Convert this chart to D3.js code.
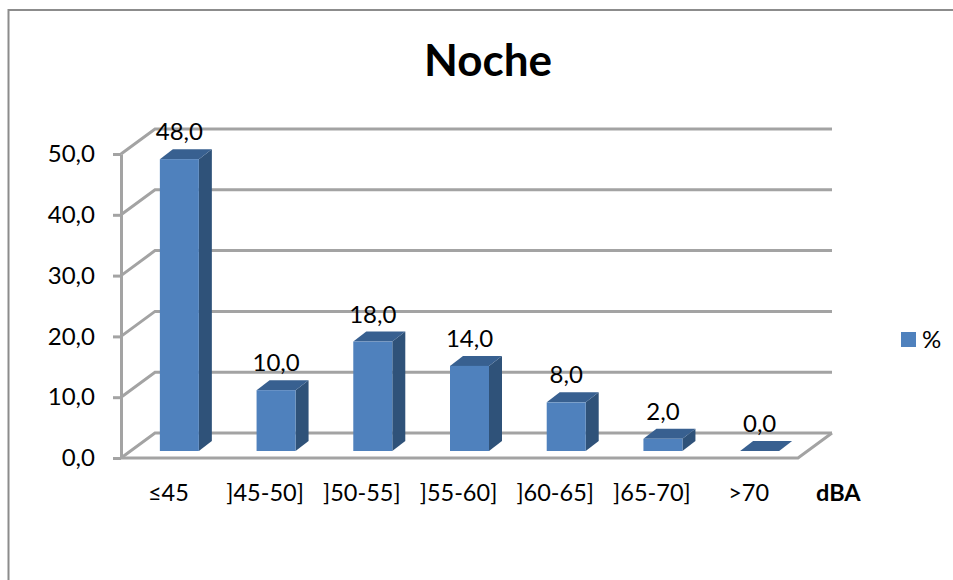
<!doctype html>
<html lang="es">
<head>
<meta charset="utf-8">
<title>Noche</title>
<style>
  html, body { margin: 0; padding: 0; background: #fff; }
  svg { display: block; }
  text { font-family: Lato, "Open Sans", sans-serif; fill: #000; }
  .grid { stroke: #a3a3a3; stroke-width: 3; fill: none; }
  .tick-axis .tick line, .tick-axis .domain { stroke: #a3a3a3; stroke-width: 3; }
  .tick-axis text { font-size: 24px; }
  .cat-axis .tick line, .cat-axis .domain { display: none; }
  .cat-axis text { font-size: 23.5px; }
</style>
</head>
<body>
<svg id="chart" width="953" height="580"></svg>
<script src="https://cdn.jsdelivr.net/npm/d3@7"></script>
<script>
var categories = ["≤45", "]45-50]", "]50-55]", "]55-60]", "]60-65]", "]65-70]", ">70"];
var values = [48, 10, 18, 14, 8, 2, 0];
var yTicks = [0, 10, 20, 30, 40, 50];

var svg = d3.select("#chart");
var es = d3.formatLocale({ decimal: ",", thousands: ".", grouping: [3], currency: ["", ""] });
var fmt = es.format(".1f");

// front plane of the 3d box
var left = 121, right = 798, bottom = 458, top50 = 154;
// depth of the box, and how far the bars sit inside it
var wallDx = 34, wallDy = -25;
var barDx = 10, barDy = -7, sideDx = 13, sideDy = -10;

var x = d3.scaleBand().domain(categories).range([left, right]).paddingInner(0).paddingOuter(0);
var y = d3.scaleLinear().domain([0, 50]).range([bottom, top50]);
var barW = 39;

// frame
svg.append("path").attr("d", "M8.5,580V10H953").attr("fill", "none").attr("stroke", "#8c8c8c").attr("stroke-width", 2);

svg.append("text").attr("x", 488).attr("y", 76).attr("text-anchor", "middle")
  .style("font-size", "44px").style("font-weight", "700").text("Noche");

// walls + floor
var line = d3.line();
svg.selectAll(".grid").data(yTicks).enter().append("path").attr("class", "grid")
  .attr("d", function (d) {
    return line([[left, y(d)], [left + wallDx, y(d) + wallDy], [right + wallDx, y(d) + wallDy]]);
  });
svg.append("path").attr("class", "grid")
  .attr("d", line([[left, y(0)], [right, y(0)], [right + wallDx, y(0) + wallDy]]));

svg.append("g").attr("class", "tick-axis").attr("transform", "translate(" + left + ",0)")
  .call(d3.axisLeft(y).tickValues(yTicks).tickFormat(fmt).tickSize(8).tickSizeOuter(0).tickPadding(18));

svg.append("g").attr("class", "cat-axis").attr("transform", "translate(-1,478)")
  .call(d3.axisBottom(x).tickPadding(0));

// bars
var bars = svg.selectAll(".bar").data(values).enter().append("g").attr("class", "bar")
  .attr("transform", function (d, i) {
    return "translate(" + (x(categories[i]) + x.bandwidth() / 2 - barW / 2 + barDx) + "," + barDy + ")";
  });

bars.append("path").attr("fill", "#2f5279").attr("d", function (d) {
  return line([[barW, y(d)], [barW + sideDx, y(d) + sideDy], [barW + sideDx, y(0) + sideDy], [barW, y(0)]]) + "Z";
});
bars.append("path").attr("fill", "#386090").attr("d", function (d) {
  return line([[0, y(d)], [sideDx, y(d) + sideDy], [barW + sideDx, y(d) + sideDy], [barW, y(d)]]) + "Z";
});
bars.append("rect").attr("fill", "#4f81bd").attr("width", barW)
  .attr("y", function (d) { return y(d); })
  .attr("height", function (d) { return y(0) - y(d); });

bars.append("text").attr("x", barW / 2).attr("text-anchor", "middle")
  .attr("y", function (d) { return y(d) - 19; })
  .style("font-size", "24px")
  .text(function (d) { return fmt(d); });

// axis title
svg.append("text").attr("x", 816).attr("y", 501).style("font-size", "23.5px").style("font-weight", "700").text("dBA");

// legend
svg.append("rect").attr("x", 901).attr("y", 332).attr("width", 15).attr("height", 15).attr("fill", "#4f81bd");
svg.append("text").attr("x", 922).attr("y", 348).style("font-size", "24px").text("%");
</script>
</body>
</html>
